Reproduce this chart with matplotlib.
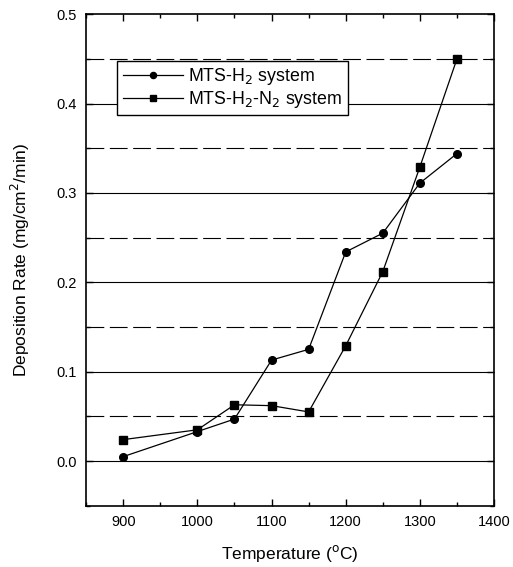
import numpy as np
import matplotlib.pyplot as plt
from matplotlib.ticker import MultipleLocator

plt.rcParams['font.family'] = ['Liberation Sans', 'DejaVu Sans']

# Deposition rate vs temperature for the two gas systems
temp = [900, 1000, 1050, 1100, 1150, 1200, 1250, 1300, 1350]
rate_h2 = [0.005, 0.033, 0.047, 0.113, 0.125, 0.234, 0.255, 0.311, 0.344]
rate_h2_n2 = [0.024, 0.035, 0.063, 0.062, 0.055, 0.129, 0.212, 0.329, 0.450]

fig = plt.figure(figsize=(5.13, 5.67), dpi=100)
ax = fig.add_axes([0.168, 0.108, 0.795, 0.867])

# horizontal grid: solid at 0.1 steps, dashed in between
for y in np.arange(0.0, 0.45, 0.1):
    ax.axhline(y, color='black', lw=0.8, zorder=1)
for y in np.arange(0.05, 0.5, 0.1):
    ax.axhline(y, color='black', lw=0.8, ls=(0, (16, 5)), zorder=1)

ax.plot(temp, rate_h2, color='black', lw=0.9, marker='o', ms=5.5,
        label='MTS-H$_2$ system', zorder=3)
ax.plot(temp, rate_h2_n2, color='black', lw=0.9, marker='s', ms=5.5,
        label='MTS-H$_2$-N$_2$ system', zorder=3)

ax.set_xlim(850, 1400)
ax.set_ylim(-0.05, 0.5)
ax.xaxis.set_minor_locator(MultipleLocator(50))
ax.yaxis.set_minor_locator(MultipleLocator(0.05))
ax.set_xticks([900, 1000, 1100, 1200, 1300, 1400])
ax.set_yticks([0.0, 0.1, 0.2, 0.3, 0.4, 0.5])
ax.set_yticklabels(['0.0', '0.1', '0.2', '0.3', '0.4', '0.5'])
ax.tick_params(which='both', direction='in', top=True, right=True,
               labelsize=10.5, width=1)
ax.tick_params(which='major', length=5)
ax.tick_params(which='minor', length=3)
ax.tick_params(axis='y', which='major', pad=7)
ax.tick_params(axis='x', which='major', pad=7)
for s in ax.spines.values():
    s.set_linewidth(1.2)

ax.set_xlabel('Temperature ($^{\\rm o}$C)', fontsize=12.5, labelpad=10)
ax.set_ylabel('Deposition Rate (mg/cm$^2$/min)', fontsize=12.5, labelpad=17)

leg = ax.legend(loc='upper left', bbox_to_anchor=(0.076, 0.905), fontsize=12.8,
                frameon=True, fancybox=False, edgecolor='black',
                handlelength=3.4, borderpad=0.3, labelspacing=0.1,
                handletextpad=0.3, borderaxespad=0, markerscale=0.8)
leg.get_frame().set_linewidth(1.0)
leg.get_frame().set_alpha(1)

plt.savefig('out.png', dpi=100)
